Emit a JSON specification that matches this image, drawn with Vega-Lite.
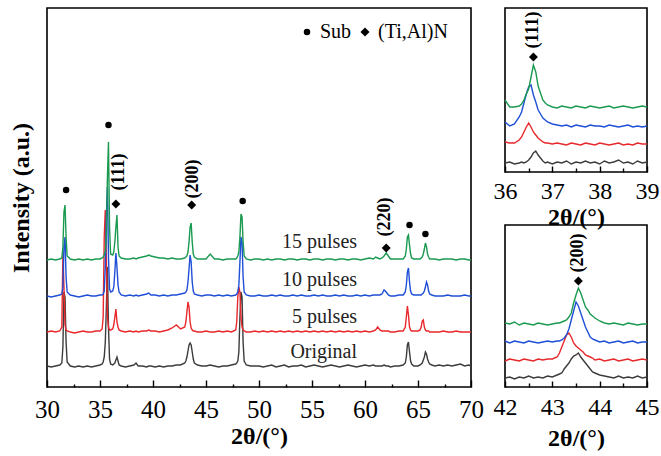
{
"$schema":"https://vega.github.io/schema/vega-lite/v6.json",
"background":"white",
"padding":{"left":8,"top":7,"right":5,"bottom":2},
"bounds":"flush",
"spacing":34,
"config":{
 "view":{"stroke":"black","strokeWidth":1.6},
 "font":"Liberation Serif",
 "axis":{"labelFont":"Liberation Serif","titleFont":"Liberation Serif","labelColor":"black","titleColor":"black","tickColor":"black","tickWidth":1.4,"domain":false,"grid":false,"titleFontWeight":"bold"},
 "legend":{"labelFont":"Liberation Serif","labelColor":"black"}
},
"datasets":{
"main":[
{"x":30.0,"o":21,"r":55,"b":91,"g":127},
{"x":30.4,"o":20,"r":56,"b":90,"g":128},
{"x":30.8,"o":21,"r":55,"b":91,"g":127},
{"x":31.2,"o":22,"r":56,"b":92,"g":128},
{"x":31.4,"o":24,"r":60,"b":93,"g":129},
{"x":31.5,"o":40,"r":135,"b":100,"g":140},
{"x":31.6,"o":95,"r":100,"b":140,"g":175},
{"x":31.7,"o":90,"r":62,"b":150,"g":182},
{"x":31.8,"o":45,"r":57,"b":110,"g":150},
{"x":31.9,"o":25,"r":56,"b":95,"g":131},
{"x":32.2,"o":21,"r":55,"b":92,"g":128},
{"x":32.6,"o":20,"r":54,"b":91,"g":127},
{"x":33.0,"o":21,"r":55,"b":90,"g":128},
{"x":33.4,"o":20,"r":56,"b":91,"g":127},
{"x":33.8,"o":21,"r":55,"b":92,"g":128},
{"x":34.2,"o":20,"r":55,"b":91,"g":127},
{"x":34.6,"o":21,"r":56,"b":91,"g":128},
{"x":35.0,"o":22,"r":56,"b":92,"g":128},
{"x":35.2,"o":23,"r":58,"b":92,"g":129},
{"x":35.3,"o":25,"r":70,"b":93,"g":130},
{"x":35.4,"o":30,"r":150,"b":96,"g":132},
{"x":35.5,"o":45,"r":177,"b":120,"g":136},
{"x":35.6,"o":80,"r":130,"b":170,"g":150},
{"x":35.7,"o":120,"r":70,"b":200,"g":210},
{"x":35.8,"o":60,"r":60,"b":130,"g":245},
{"x":35.9,"o":28,"r":57,"b":98,"g":160},
{"x":36.0,"o":23,"r":57,"b":95,"g":133},
{"x":36.2,"o":22,"r":58,"b":96,"g":132},
{"x":36.3,"o":23,"r":62,"b":100,"g":135},
{"x":36.4,"o":24,"r":70,"b":115,"g":145},
{"x":36.5,"o":27,"r":78,"b":134,"g":160},
{"x":36.6,"o":30,"r":65,"b":120,"g":172},
{"x":36.7,"o":26,"r":60,"b":102,"g":140},
{"x":36.8,"o":22,"r":57,"b":95,"g":131},
{"x":37.0,"o":21,"r":56,"b":92,"g":129},
{"x":37.4,"o":20,"r":55,"b":91,"g":128},
{"x":37.8,"o":21,"r":56,"b":92,"g":128},
{"x":38.2,"o":22,"r":55,"b":91,"g":129},
{"x":38.4,"o":24,"r":56,"b":92,"g":128},
{"x":38.6,"o":21,"r":55,"b":91,"g":129},
{"x":39.0,"o":21,"r":56,"b":92,"g":130},
{"x":39.4,"o":20,"r":56,"b":93,"g":131},
{"x":39.6,"o":21,"r":57,"b":94,"g":132},
{"x":39.8,"o":21,"r":56,"b":92,"g":131},
{"x":40.2,"o":20,"r":56,"b":92,"g":130},
{"x":40.6,"o":21,"r":55,"b":91,"g":129},
{"x":41.0,"o":20,"r":56,"b":92,"g":129},
{"x":41.4,"o":21,"r":57,"b":91,"g":128},
{"x":41.8,"o":21,"r":59,"b":92,"g":129},
{"x":42.2,"o":22,"r":62,"b":92,"g":128},
{"x":42.6,"o":22,"r":58,"b":93,"g":128},
{"x":43.0,"o":24,"r":60,"b":94,"g":129},
{"x":43.1,"o":26,"r":65,"b":95,"g":130},
{"x":43.2,"o":30,"r":75,"b":97,"g":131},
{"x":43.3,"o":36,"r":85,"b":105,"g":135},
{"x":43.4,"o":42,"r":80,"b":118,"g":145},
{"x":43.5,"o":44,"r":65,"b":132,"g":160},
{"x":43.6,"o":42,"r":59,"b":125,"g":164},
{"x":43.7,"o":35,"r":57,"b":105,"g":145},
{"x":43.8,"o":28,"r":56,"b":96,"g":133},
{"x":43.9,"o":24,"r":56,"b":93,"g":130},
{"x":44.2,"o":22,"r":55,"b":92,"g":128},
{"x":44.6,"o":21,"r":55,"b":91,"g":128},
{"x":45.0,"o":21,"r":56,"b":92,"g":128},
{"x":45.4,"o":22,"r":55,"b":92,"g":133},
{"x":45.8,"o":21,"r":55,"b":91,"g":128},
{"x":46.2,"o":20,"r":56,"b":92,"g":128},
{"x":46.6,"o":21,"r":55,"b":91,"g":127},
{"x":47.0,"o":21,"r":56,"b":92,"g":128},
{"x":47.4,"o":22,"r":55,"b":91,"g":128},
{"x":47.8,"o":23,"r":57,"b":92,"g":128},
{"x":47.9,"o":24,"r":65,"b":93,"g":129},
{"x":48.0,"o":26,"r":90,"b":95,"g":131},
{"x":48.1,"o":35,"r":100,"b":102,"g":135},
{"x":48.2,"o":70,"r":95,"b":125,"g":150},
{"x":48.3,"o":95,"r":70,"b":150,"g":173},
{"x":48.4,"o":90,"r":60,"b":145,"g":170},
{"x":48.5,"o":45,"r":57,"b":110,"g":145},
{"x":48.6,"o":26,"r":56,"b":95,"g":131},
{"x":48.8,"o":22,"r":55,"b":92,"g":128},
{"x":49.2,"o":21,"r":55,"b":91,"g":127},
{"x":49.6,"o":21,"r":56,"b":91,"g":128},
{"x":50.0,"o":21,"r":55,"b":92,"g":128},
{"x":50.4,"o":20,"r":56,"b":91,"g":127},
{"x":50.8,"o":21,"r":55,"b":91,"g":128},
{"x":51.2,"o":22,"r":56,"b":92,"g":127},
{"x":51.6,"o":20,"r":55,"b":91,"g":128},
{"x":52.0,"o":21,"r":56,"b":92,"g":128},
{"x":52.4,"o":22,"r":55,"b":91,"g":127},
{"x":52.8,"o":20,"r":56,"b":91,"g":128},
{"x":53.2,"o":21,"r":55,"b":92,"g":128},
{"x":53.6,"o":21,"r":56,"b":91,"g":127},
{"x":54.0,"o":22,"r":55,"b":92,"g":128},
{"x":54.4,"o":20,"r":56,"b":91,"g":128},
{"x":54.8,"o":21,"r":55,"b":91,"g":127},
{"x":55.2,"o":22,"r":56,"b":92,"g":128},
{"x":55.6,"o":21,"r":55,"b":91,"g":128},
{"x":56.0,"o":20,"r":56,"b":92,"g":127},
{"x":56.4,"o":21,"r":55,"b":91,"g":128},
{"x":56.8,"o":22,"r":56,"b":91,"g":128},
{"x":57.2,"o":21,"r":55,"b":92,"g":127},
{"x":57.6,"o":20,"r":56,"b":91,"g":128},
{"x":58.0,"o":21,"r":55,"b":92,"g":128},
{"x":58.4,"o":22,"r":56,"b":91,"g":127},
{"x":58.8,"o":21,"r":55,"b":91,"g":128},
{"x":59.2,"o":20,"r":56,"b":92,"g":128},
{"x":59.6,"o":21,"r":55,"b":91,"g":127},
{"x":60.0,"o":22,"r":56,"b":92,"g":128},
{"x":60.4,"o":21,"r":55,"b":91,"g":129},
{"x":60.8,"o":22,"r":56,"b":92,"g":128},
{"x":61.0,"o":21,"r":57,"b":92,"g":130},
{"x":61.2,"o":21,"r":60,"b":92,"g":129},
{"x":61.4,"o":21,"r":57,"b":92,"g":128},
{"x":61.6,"o":21,"r":56,"b":93,"g":129},
{"x":61.8,"o":22,"r":56,"b":97,"g":131},
{"x":62.0,"o":21,"r":56,"b":95,"g":134},
{"x":62.2,"o":21,"r":56,"b":92,"g":131},
{"x":62.4,"o":20,"r":55,"b":91,"g":128},
{"x":62.8,"o":21,"r":55,"b":91,"g":128},
{"x":63.2,"o":21,"r":56,"b":92,"g":128},
{"x":63.6,"o":22,"r":56,"b":92,"g":128},
{"x":63.8,"o":24,"r":60,"b":95,"g":131},
{"x":63.9,"o":30,"r":70,"b":102,"g":138},
{"x":64.0,"o":42,"r":81,"b":115,"g":150},
{"x":64.1,"o":45,"r":72,"b":119,"g":152},
{"x":64.2,"o":35,"r":60,"b":105,"g":142},
{"x":64.3,"o":26,"r":57,"b":96,"g":133},
{"x":64.4,"o":23,"r":56,"b":93,"g":129},
{"x":64.6,"o":21,"r":56,"b":92,"g":128},
{"x":65.0,"o":21,"r":56,"b":92,"g":128},
{"x":65.2,"o":22,"r":57,"b":92,"g":128},
{"x":65.3,"o":23,"r":60,"b":92,"g":129},
{"x":65.4,"o":24,"r":66,"b":93,"g":130},
{"x":65.5,"o":27,"r":67,"b":94,"g":133},
{"x":65.6,"o":30,"r":60,"b":96,"g":138},
{"x":65.7,"o":35,"r":57,"b":100,"g":144},
{"x":65.8,"o":33,"r":56,"b":105,"g":140},
{"x":65.9,"o":28,"r":56,"b":102,"g":133},
{"x":66.0,"o":25,"r":56,"b":96,"g":130},
{"x":66.1,"o":23,"r":55,"b":93,"g":128},
{"x":66.3,"o":22,"r":55,"b":92,"g":128},
{"x":66.6,"o":21,"r":55,"b":91,"g":128},
{"x":67.0,"o":22,"r":55,"b":91,"g":127},
{"x":67.4,"o":21,"r":56,"b":91,"g":128},
{"x":67.8,"o":22,"r":55,"b":92,"g":128},
{"x":68.2,"o":21,"r":55,"b":91,"g":128},
{"x":68.6,"o":22,"r":56,"b":91,"g":127},
{"x":69.0,"o":23,"r":55,"b":91,"g":128},
{"x":69.4,"o":21,"r":55,"b":92,"g":128},
{"x":69.8,"o":22,"r":55,"b":91,"g":127},
{"x":70.0,"o":21,"r":55,"b":91,"g":127}
],
"pts":[
{"x":31.8,"y":197,"k":"Sub"},
{"x":35.8,"y":262,"k":"Sub"},
{"x":48.46,"y":186,"k":"Sub"},
{"x":64.2,"y":162,"k":"Sub"},
{"x":65.7,"y":153,"k":"Sub"},
{"x":36.5,"y":183,"k":"(Ti,Al)N"},
{"x":43.65,"y":182,"k":"(Ti,Al)N"},
{"x":62.0,"y":139,"k":"(Ti,Al)N"}
],
"plbl":[
{"x":36.8,"y":215,"t":"(111)"},
{"x":43.8,"y":208,"t":"(200)"},
{"x":61.9,"y":170,"t":"(220)"}
],
"samples":[
{"x":59.25,"y":145,"t":"15 pulses"},
{"x":59.25,"y":107,"t":"10 pulses"},
{"x":59.25,"y":70,"t":"5 pulses"},
{"x":59.25,"y":35,"t":"Original"}
],
"i1":[
{"x":36.0,"o":9,"r":30,"b":50,"g":72},
{"x":36.1,"o":10,"r":29,"b":46,"g":65},
{"x":36.2,"o":8,"r":29,"b":48,"g":65},
{"x":36.3,"o":9,"r":32,"b":55,"g":66},
{"x":36.35,"o":10,"r":35,"b":60,"g":68},
{"x":36.4,"o":9,"r":40,"b":69,"g":72},
{"x":36.45,"o":10,"r":45,"b":78,"g":78},
{"x":36.5,"o":12,"r":49,"b":85,"g":83},
{"x":36.55,"o":15,"r":45,"b":87,"g":95},
{"x":36.6,"o":19,"r":40,"b":77,"g":107},
{"x":36.65,"o":21,"r":37,"b":70,"g":100},
{"x":36.7,"o":17,"r":34,"b":62,"g":86},
{"x":36.75,"o":14,"r":32,"b":58,"g":79},
{"x":36.8,"o":11,"r":30,"b":54,"g":72},
{"x":36.85,"o":9,"r":29,"b":52,"g":69},
{"x":36.9,"o":10,"r":29,"b":50,"g":67},
{"x":37.0,"o":8,"r":28,"b":48,"g":65},
{"x":37.1,"o":10,"r":29,"b":47,"g":64},
{"x":37.2,"o":9,"r":28,"b":46,"g":66},
{"x":37.3,"o":11,"r":27,"b":47,"g":65},
{"x":37.4,"o":8,"r":29,"b":45,"g":64},
{"x":37.5,"o":10,"r":28,"b":47,"g":66},
{"x":37.6,"o":9,"r":27,"b":46,"g":65},
{"x":37.7,"o":11,"r":29,"b":45,"g":64},
{"x":37.8,"o":9,"r":28,"b":47,"g":66},
{"x":37.9,"o":10,"r":27,"b":46,"g":65},
{"x":38.0,"o":8,"r":29,"b":46,"g":64},
{"x":38.1,"o":11,"r":28,"b":45,"g":65},
{"x":38.2,"o":9,"r":27,"b":47,"g":66},
{"x":38.3,"o":10,"r":28,"b":46,"g":64},
{"x":38.4,"o":12,"r":29,"b":45,"g":65},
{"x":38.5,"o":9,"r":27,"b":46,"g":66},
{"x":38.6,"o":10,"r":28,"b":47,"g":65},
{"x":38.7,"o":8,"r":27,"b":45,"g":64},
{"x":38.8,"o":11,"r":29,"b":46,"g":65},
{"x":38.9,"o":9,"r":28,"b":45,"g":66},
{"x":39.0,"o":10,"r":28,"b":46,"g":65}
],
"i1m":[{"x":36.6,"y":115,"ly":142,"t":"(111)"}],
"i2":[
{"x":42.0,"o":9,"r":26,"b":46,"g":64},
{"x":42.1,"o":10,"r":28,"b":44,"g":63},
{"x":42.2,"o":8,"r":27,"b":46,"g":65},
{"x":42.3,"o":10,"r":26,"b":45,"g":62},
{"x":42.4,"o":9,"r":28,"b":44,"g":64},
{"x":42.5,"o":11,"r":27,"b":46,"g":63},
{"x":42.6,"o":9,"r":26,"b":45,"g":62},
{"x":42.7,"o":10,"r":28,"b":44,"g":64},
{"x":42.8,"o":9,"r":27,"b":45,"g":63},
{"x":42.9,"o":11,"r":28,"b":46,"g":62},
{"x":43.0,"o":10,"r":28,"b":45,"g":63},
{"x":43.1,"o":12,"r":30,"b":46,"g":64},
{"x":43.15,"o":13,"r":34,"b":46,"g":64},
{"x":43.2,"o":14,"r":40,"b":47,"g":65},
{"x":43.25,"o":18,"r":46,"b":49,"g":66},
{"x":43.3,"o":21,"r":52,"b":52,"g":67},
{"x":43.35,"o":24,"r":54,"b":58,"g":70},
{"x":43.4,"o":28,"r":50,"b":67,"g":74},
{"x":43.45,"o":31,"r":44,"b":76,"g":84},
{"x":43.5,"o":32,"r":41,"b":85,"g":92},
{"x":43.55,"o":34,"r":39,"b":81,"g":99},
{"x":43.6,"o":30,"r":37,"b":74,"g":94},
{"x":43.65,"o":27,"r":35,"b":67,"g":87},
{"x":43.7,"o":24,"r":32,"b":60,"g":80},
{"x":43.75,"o":21,"r":31,"b":55,"g":77},
{"x":43.8,"o":18,"r":30,"b":50,"g":73},
{"x":43.85,"o":15,"r":29,"b":48,"g":71},
{"x":43.9,"o":14,"r":27,"b":47,"g":69},
{"x":44.0,"o":12,"r":28,"b":45,"g":66},
{"x":44.1,"o":11,"r":26,"b":46,"g":64},
{"x":44.2,"o":10,"r":27,"b":44,"g":63},
{"x":44.3,"o":9,"r":28,"b":45,"g":64},
{"x":44.4,"o":11,"r":26,"b":46,"g":63},
{"x":44.5,"o":9,"r":27,"b":44,"g":62},
{"x":44.6,"o":10,"r":28,"b":45,"g":64},
{"x":44.7,"o":9,"r":26,"b":46,"g":63},
{"x":44.8,"o":11,"r":27,"b":44,"g":62},
{"x":44.9,"o":9,"r":28,"b":45,"g":63},
{"x":45.0,"o":10,"r":27,"b":45,"g":63}
],
"i2m":[{"x":43.55,"y":106,"ly":134,"t":"(200)"}]
},
"hconcat":[
 {"width":424,"height":379,
  "encoding":{
   "x":{"field":"x","type":"quantitative","scale":{"domain":[30,70],"nice":false,"zero":false},
        "axis":{"title":"2θ/(°)","values":[30,32.5,35,37.5,40,42.5,45,47.5,50,52.5,55,57.5,60,62.5,65,67.5,70],
          "labelExpr":"datum.value % 5 === 0 ? format(datum.value, 'd') : ''",
          "tickSize":{"condition":{"test":"datum.value % 5 === 0","value":-7},"value":-3},
          "labelFont":"Liberation Serif","titleFont":"Liberation Serif",
          "labelFontSize":25,"titleFontSize":24,"labelPadding":17,"titlePadding":-2,"labelFlush":false,"labelOverlap":false}},
   "y":{"field":"y","type":"quantitative","scale":{"domain":[0,379],"nice":false,"zero":false},
        "axis":{"title":"Intensity (a.u.)","labels":false,"ticks":false,"titleFont":"Liberation Serif","titleFontSize":24,"titlePadding":14}}
  },
  "layer":[
   {"data":{"name":"main"},"transform":[{"fold":["o","r","b","g"],"as":["s","y"]}],
    "mark":{"type":"line","strokeWidth":1.4},
    "encoding":{"color":{"field":"s","type":"nominal","scale":{"domain":["o","r","b","g"],"range":["#3c3c3c","#e8282b","#1f4fd6","#1a9a50"]},"legend":null}}},
   {"data":{"name":"pts"},"mark":{"type":"point","filled":true,"color":"black","opacity":1},
    "encoding":{
      "size":{"field":"k","type":"nominal","scale":{"domain":["Sub","(Ti,Al)N"],"range":[42,80]},
      "legend":{"title":null,"orient":"none","legendX":250,"legendY":14,"direction":"horizontal","labelFontSize":20,"labelFont":"Liberation Serif","symbolFillColor":"black","symbolStrokeColor":"black","columnPadding":3,"labelOffset":3,"padding":0}},
      "shape":{"field":"k","type":"nominal","scale":{"domain":["Sub","(Ti,Al)N"],"range":["circle","diamond"]},
      "legend":{"title":null,"orient":"none","legendX":250,"legendY":14,"direction":"horizontal","labelFontSize":20,"labelFont":"Liberation Serif","symbolFillColor":"black","symbolStrokeColor":"black","columnPadding":3,"labelOffset":3,"padding":0}}}},
   {"data":{"name":"plbl"},"mark":{"type":"text","angle":270,"fontWeight":"bold","fontSize":18,"align":"center","baseline":"middle","color":"black","font":"Liberation Serif"},
    "encoding":{"text":{"field":"t"}}},
   {"data":{"name":"samples"},"mark":{"type":"text","fontSize":20,"align":"right","baseline":"middle","color":"#222222","font":"Liberation Serif"},
    "encoding":{"text":{"field":"t"}}}
  ]},
 {"vconcat":[
  {"width":142,"height":164,
   "encoding":{
    "x":{"field":"x","type":"quantitative","scale":{"domain":[36,39],"nice":false,"zero":false},
         "axis":{"title":"2θ/(°)","values":[36,36.5,37,37.5,38,38.5,39],
          "labelExpr":"datum.value % 1 === 0 ? format(datum.value, 'd') : ''",
          "tickSize":{"condition":{"test":"datum.value % 1 === 0","value":-6},"value":-4},
          "labelFont":"Liberation Serif","titleFont":"Liberation Serif",
          "labelFontSize":24,"titleFontSize":24,"labelPadding":13,"titlePadding":0,"labelFlush":false,"labelOverlap":false}},
    "y":{"field":"y","type":"quantitative","scale":{"domain":[0,164],"nice":false,"zero":false},"axis":null}
   },
   "layer":[
    {"data":{"name":"i1"},"transform":[{"fold":["o","r","b","g"],"as":["s","y"]}],
     "mark":{"type":"line","strokeWidth":1.4},
     "encoding":{"color":{"field":"s","type":"nominal","scale":{"domain":["o","r","b","g"],"range":["#3c3c3c","#e8282b","#1f4fd6","#1a9a50"]},"legend":null}}},
    {"data":{"name":"i1m"},"mark":{"type":"point","shape":"diamond","filled":true,"color":"black","size":80,"opacity":1}},
    {"data":{"name":"i1m"},"mark":{"type":"text","angle":270,"fontWeight":"bold","fontSize":18,"align":"center","baseline":"middle","color":"black","font":"Liberation Serif"},
     "encoding":{"y":{"field":"ly","type":"quantitative","axis":null},"text":{"field":"t"}}}
   ]},
  {"width":142,"height":162,
   "encoding":{
    "x":{"field":"x","type":"quantitative","scale":{"domain":[42,45],"nice":false,"zero":false},
         "axis":{"title":"2θ/(°)","values":[42,42.5,43,43.5,44,44.5,45],
          "labelExpr":"datum.value % 1 === 0 ? format(datum.value, 'd') : ''",
          "tickSize":{"condition":{"test":"datum.value % 1 === 0","value":-6},"value":-4},
          "labelFont":"Liberation Serif","titleFont":"Liberation Serif",
          "labelFontSize":24,"titleFontSize":24,"labelPadding":14,"titlePadding":5,"labelFlush":false,"labelOverlap":false}},
    "y":{"field":"y","type":"quantitative","scale":{"domain":[0,162],"nice":false,"zero":false},"axis":null}
   },
   "layer":[
    {"data":{"name":"i2"},"transform":[{"fold":["o","r","b","g"],"as":["s","y"]}],
     "mark":{"type":"line","strokeWidth":1.4},
     "encoding":{"color":{"field":"s","type":"nominal","scale":{"domain":["o","r","b","g"],"range":["#3c3c3c","#e8282b","#1f4fd6","#1a9a50"]},"legend":null}}},
    {"data":{"name":"i2m"},"mark":{"type":"point","shape":"diamond","filled":true,"color":"black","size":80,"opacity":1}},
    {"data":{"name":"i2m"},"mark":{"type":"text","angle":270,"fontWeight":"bold","fontSize":18,"align":"center","baseline":"middle","color":"black","font":"Liberation Serif"},
     "encoding":{"y":{"field":"ly","type":"quantitative","axis":null},"text":{"field":"t"}}}
   ]}
 ],"spacing":53,"bounds":"flush"}
]
}
